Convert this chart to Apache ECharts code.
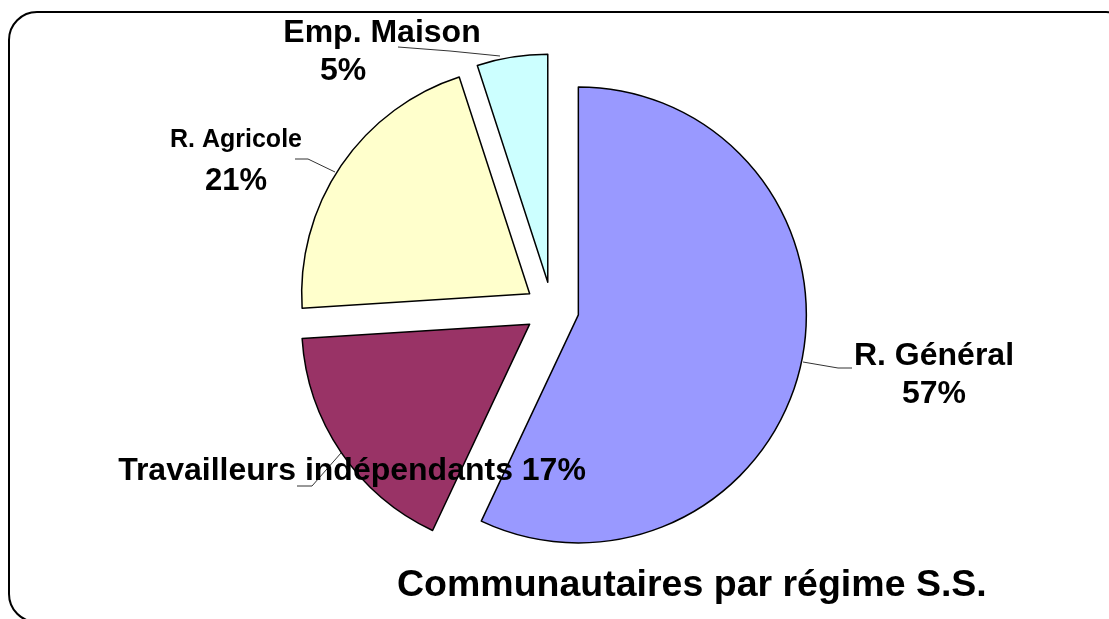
<!DOCTYPE html>
<html>
<head>
<meta charset="utf-8">
<script src="https://cdn.jsdelivr.net/npm/echarts@6/dist/echarts.min.js"></script>
<style>
  html, body { margin: 0; padding: 0; background: #fff; }
  #main { width: 1109px; height: 619px; }
</style>
</head>
<body>
<div id="main"></div>
<script>
// data
const categories = ['R. Général', 'Travailleurs indépendants', 'R. Agricole', 'Emp. Maison'];
const values = [57, 17, 21, 5];
const colors = ['#9999ff', '#993366', '#ffffcc', '#ccffff'];
const chartTitle = 'Communautaires par régime S.S.';

// where each label sits, and how its leader line runs (same order as categories)
const labelPos = [
  { x: 934, y: 375, line: [[803, 362], [838, 368], [852, 368]] },
  { x: 352, y: 471, line: [[341, 453], [312, 486], [297, 486]] },
  { x: 236, y: 162, line: [[335, 172], [308, 159], [295, 159]] },
  { x: 382, y: 52, line: [[500, 56], [450, 51], [398, 47]] }
];

const dom = document.getElementById('main');
const myChart = echarts.init(dom);

const fontFamily = '"Liberation Sans", Arial, sans-serif';

const formatLabel = (p) => {
  const pct = p.value + '%';
  if (p.dataIndex === 1) return '{b|' + p.name + ' ' + pct + '}';
  if (p.dataIndex === 2) return '{s|' + p.name + '}\n{b2|' + pct + '}';
  if (p.dataIndex === 3) return '{b|' + p.name + '}\n{p|' + pct + '}';
  return '{b|' + p.name + '}\n{b|' + pct + '}';
};

const pieBase = {
  type: 'pie',
  center: [552, 309],
  radius: 228,
  startAngle: 90,
  clockwise: true,
  avoidLabelOverlap: false
};

const option = {
  animation: false,
  title: {
    text: chartTitle,
    left: 397,
    top: 567,
    padding: 0,
    textStyle: { fontFamily, fontSize: 37.5, fontWeight: 'bold', color: '#000' }
  },
  graphic: [{
    type: 'rect',
    shape: { x: 9, y: 12, width: 1125, height: 610, r: 28 },
    style: { fill: 'none', stroke: '#000', lineWidth: 2 },
    silent: true,
    z: -10
  }],
  series: [
    // the exploded slices
    Object.assign({}, pieBase, {
      selectedMode: 'multiple',
      selectedOffset: 27,
      itemStyle: { borderColor: '#000', borderWidth: 1.5 },
      select: { itemStyle: { borderColor: '#000', borderWidth: 1.5 } },
      label: { show: false },
      labelLine: { show: false },
      data: categories.map((name, i) => ({
        name,
        value: values[i],
        selected: true,
        itemStyle: { color: colors[i] }
      }))
    }),
    // same values again, invisible, only to carry the labels
    Object.assign({}, pieBase, {
      silent: true,
      z: 5,
      itemStyle: { color: 'rgba(0,0,0,0)', borderWidth: 0 },
      label: {
        show: true,
        formatter: formatLabel,
        color: '#000',
        fontFamily,
        rich: {
          b: { fontFamily, fontSize: 32, fontWeight: 'bold', lineHeight: 38, color: '#000' },
          b2: { fontFamily, fontSize: 31, fontWeight: 'bold', lineHeight: 44, color: '#000' },
          s: { fontFamily, fontSize: 25, fontWeight: 'bold', lineHeight: 38, color: '#000' },
          p: { fontFamily, fontSize: 32, fontWeight: 'bold', lineHeight: 37, color: '#000', padding: [0, 78, 0, 0] }
        }
      },
      labelLine: { show: true, lineStyle: { color: '#333', width: 1 } },
      labelLayout: (params) => {
        const pos = labelPos[params.dataIndex];
        return {
          x: pos.x,
          y: pos.y,
          align: 'center',
          verticalAlign: 'middle',
          labelLinePoints: pos.line
        };
      },
      data: categories.map((name, i) => ({ name, value: values[i] }))
    })
  ]
};

myChart.setOption(option);
window.addEventListener('resize', myChart.resize);
</script>
</body>
</html>
